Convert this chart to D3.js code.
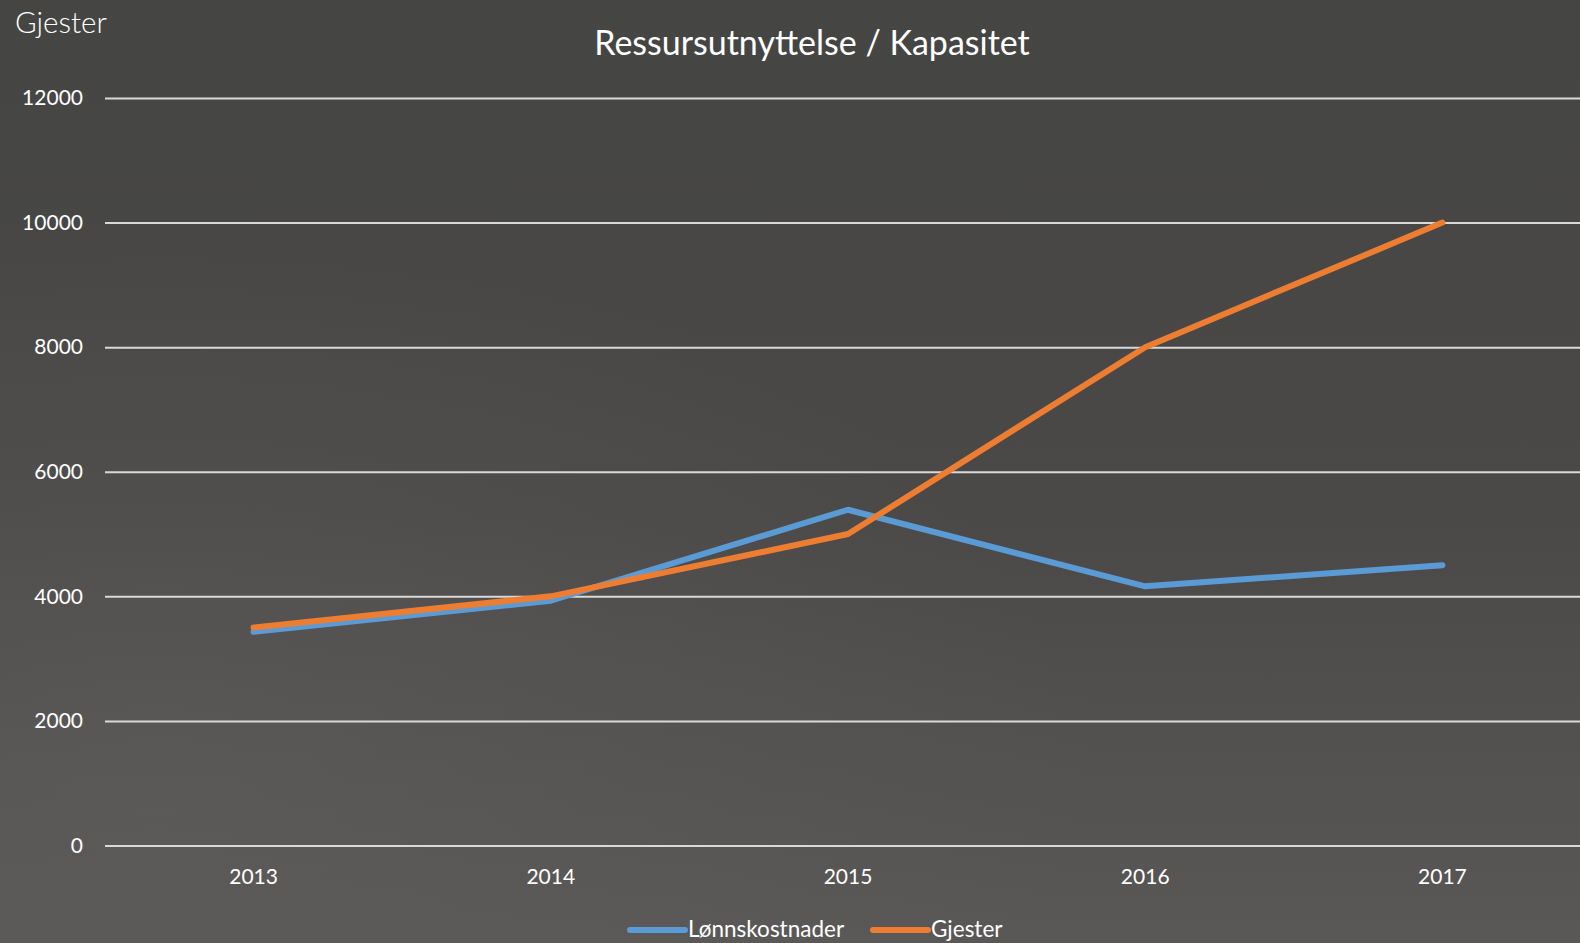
<!DOCTYPE html>
<html>
<head>
<meta charset="utf-8">
<title>Ressursutnyttelse / Kapasitet</title>
<script src="https://d3js.org/d3.v7.min.js"></script>
<style>
  html, body { margin: 0; padding: 0; background: #474746; }
  svg { display: block; }
  text { font-family: Lato, "Noto Sans", sans-serif; fill: #ffffff; }
</style>
</head>
<body>
<div id="chart"></div>
<script>
var years = ["2013", "2014", "2015", "2016", "2017"];
var lonnskostnader = [3430, 3930, 5390, 4160, 4500];
var gjester = [3500, 4000, 5000, 8000, 10000];
var yTicks = [0, 2000, 4000, 6000, 8000, 10000, 12000];
var seriesNames = ["Lønnskostnader", "Gjester"];
var seriesColors = ["#5B9BD5", "#ED7D31"];

var width = 1580, height = 943;

var svg = d3.select("#chart").append("svg")
    .attr("width", width)
    .attr("height", height);

// background
var defs = svg.append("defs");
var grad = defs.append("linearGradient")
    .attr("id", "bg")
    .attr("x1", 0).attr("y1", 0).attr("x2", 0).attr("y2", 1);
grad.append("stop").attr("offset", "0%").attr("stop-color", "#454544");
grad.append("stop").attr("offset", "55%").attr("stop-color", "#4a4948");
grad.append("stop").attr("offset", "100%").attr("stop-color", "#5a5856");
var rad = defs.append("radialGradient")
    .attr("id", "glow")
    .attr("cx", 0.1).attr("cy", 0.85).attr("r", 0.6);
rad.append("stop").attr("offset", "0%").attr("stop-color", "#5f5d5b").attr("stop-opacity", 0.6);
rad.append("stop").attr("offset", "100%").attr("stop-color", "#5f5d5b").attr("stop-opacity", 0);

svg.append("rect").attr("width", width).attr("height", height).attr("fill", "url(#bg)");
svg.append("rect").attr("width", width).attr("height", height).attr("fill", "url(#glow)");

var x = d3.scaleBand()
    .domain(years)
    .range([105, 1591]);

var y = d3.scaleLinear()
    .domain([0, 12000])
    .range([845.5, 98]);

// gridlines
var yAxis = d3.axisLeft(y)
    .tickValues(yTicks)
    .tickSize(-(width - 105))
    .tickPadding(22)
    .tickFormat(d3.format("d"));

var gY = svg.append("g")
    .attr("transform", "translate(105,0)")
    .call(yAxis);
gY.select(".domain").remove();
gY.selectAll(".tick line")
    .attr("stroke", "#d9d9d9")
    .attr("stroke-width", 2);
gY.selectAll(".tick text")
    .attr("fill", "#ffffff")
    .style("font-size", "21px")
    .style("font-family", "Lato, 'Noto Sans', sans-serif");

var xAxis = d3.axisBottom(x).tickSize(0).tickPadding(24);
var gX = svg.append("g")
    .attr("transform", "translate(0,845.5)")
    .call(xAxis);
gX.select(".domain").remove();
gX.selectAll(".tick text")
    .attr("fill", "#ffffff")
    .style("font-size", "21px")
    .style("font-family", "Lato, 'Noto Sans', sans-serif");

// lines
var line = d3.line()
    .x(function(d, i) { return x(years[i]) + x.bandwidth() / 2; })
    .y(function(d) { return y(d); });

[lonnskostnader, gjester].forEach(function(s, k) {
  svg.append("path")
      .datum(s)
      .attr("fill", "none")
      .attr("stroke", seriesColors[k])
      .attr("stroke-width", 6)
      .attr("stroke-linejoin", "round")
      .attr("stroke-linecap", "round")
      .attr("d", line);
});

// title
svg.append("text")
    .attr("x", 812)
    .attr("y", 55)
    .attr("text-anchor", "middle")
    .style("font-size", "34px")
    .text("Ressursutnyttelse / Kapasitet");

// corner label
svg.append("text")
    .attr("x", 15)
    .attr("y", 33)
    .style("font-size", "29.5px")
    .style("font-weight", 300)
    .text("Gjester");

// legend
var legendX = [630, 873];
var leg = svg.append("g");
seriesNames.forEach(function(n, k) {
  leg.append("line")
      .attr("x1", legendX[k]).attr("x2", legendX[k] + 55)
      .attr("y1", 930).attr("y2", 930)
      .attr("stroke", seriesColors[k])
      .attr("stroke-width", 6)
      .attr("stroke-linecap", "round");
  leg.append("text")
      .attr("x", legendX[k] + 58)
      .attr("y", 937)
      .style("font-size", "22.5px")
      .text(n);
});
</script>
</body>
</html>
